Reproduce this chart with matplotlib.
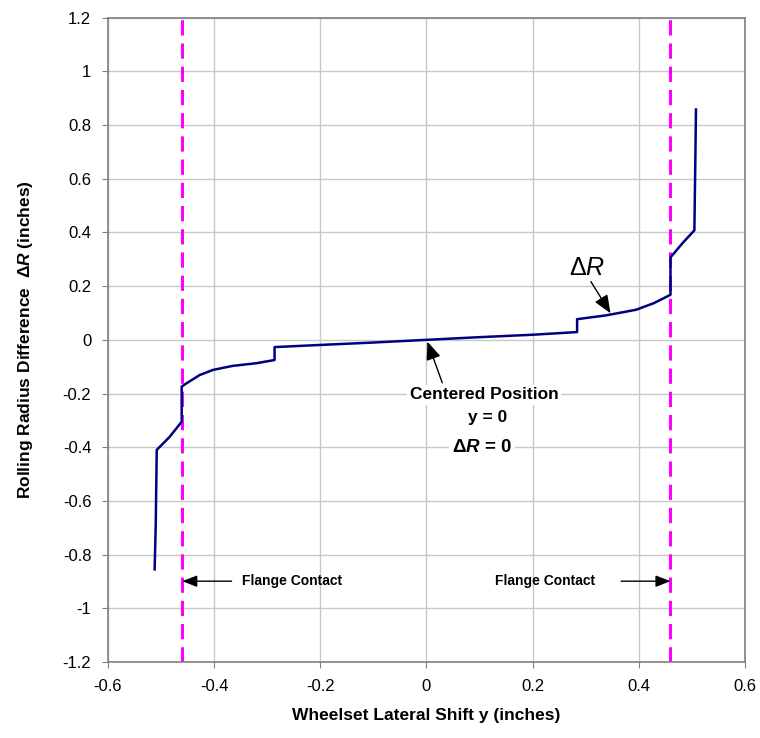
import matplotlib
matplotlib.use('Agg')
import matplotlib.pyplot as plt

plt.rcParams['font.family'] = ['Liberation Sans', 'DejaVu Sans']
plt.rcParams['mathtext.fontset'] = 'custom'
plt.rcParams['mathtext.rm'] = 'Liberation Sans'
plt.rcParams['mathtext.it'] = 'Liberation Sans:italic'
plt.rcParams['mathtext.bf'] = 'Liberation Sans:bold'
plt.rcParams['mathtext.bfit'] = 'Liberation Sans:bold:italic'

# wheelset lateral shift y (in) vs rolling radius difference dR (in)
shift_y = [-0.512, -0.510, -0.508, -0.484, -0.461, -0.461, -0.452, -0.427, -0.402,
           -0.365, -0.320, -0.286, -0.286, -0.200, -0.100, 0.0, 0.100, 0.200,
           0.284, 0.284, 0.338, 0.395, 0.429, 0.460, 0.460, 0.483, 0.505, 0.507, 0.508]
delta_r = [-0.855, -0.700, -0.410, -0.362, -0.305, -0.174, -0.162, -0.131, -0.112,
           -0.097, -0.087, -0.075, -0.027, -0.019, -0.010, 0.0, 0.010, 0.019,
           0.029, 0.077, 0.091, 0.112, 0.137, 0.168, 0.307, 0.361, 0.408, 0.700, 0.858]
flange_y = [-0.46, 0.46]

xticks = [-0.6, -0.4, -0.2, 0, 0.2, 0.4, 0.6]
yticks = [-1.2, -1, -0.8, -0.6, -0.4, -0.2, 0, 0.2, 0.4, 0.6, 0.8, 1, 1.2]

fig = plt.figure(figsize=(7.6, 7.38), dpi=100)
ax = fig.add_axes([0.142, 0.103, 0.838, 0.873])

ax.grid(True, color='#c8c8c8', lw=1)
ax.set_axisbelow(True)

for fx in flange_y:
    ax.axvline(fx, color='#ff00ff', lw=2.2, dashes=(5, 2.6), zorder=2)

ax.plot(shift_y, delta_r, color='#000080', lw=1.8, zorder=3)

ax.set_xlim(-0.6, 0.6)
ax.set_ylim(-1.2, 1.2)
ax.set_xticks(xticks)
ax.set_yticks(yticks)
ax.set_xticklabels([f'{t:g}' for t in xticks])
ax.set_yticklabels([f'{t:g}' for t in yticks])
ax.tick_params(labelsize=12, length=4, color='#808080', pad=8)
for s in ax.spines.values():
    s.set_color('#808080')
    s.set_linewidth(1.2)

ax.set_xlabel('Wheelset Lateral Shift y (inches)', fontsize=12.5, fontweight='bold', labelpad=10)
ax.set_ylabel(r'Rolling Radius Difference  $\mathbf{\Delta}\mathbfit{R}$ (inches)',
              fontsize=12.5, fontweight='bold', labelpad=20)

arrow_big = dict(arrowstyle='-|>,head_length=1.1,head_width=0.45',
                 color='black', lw=1, shrinkA=0, shrinkB=0)

# dR label near curve
ax.text(0.303, 0.269, r'$\Delta\mathit{R}$', fontsize=18, ha='center', va='center', zorder=5)
ax.annotate('', xy=(0.347, 0.099), xytext=(0.310, 0.217), arrowprops=arrow_big, zorder=5)

# centered position
ax.annotate('', xy=(0.002, -0.007), xytext=(0.030, -0.160), arrowprops=arrow_big, zorder=5)
ax.text(0.109, -0.205, 'Centered Position', fontsize=12.5, fontweight='bold',
        ha='center', va='center',
        bbox=dict(boxstyle='square,pad=0.15', fc='white', ec='none'), zorder=5)
ax.text(0.115, -0.291, 'y = 0', fontsize=12.5, fontweight='bold', ha='center', va='center',
        bbox=dict(boxstyle='square,pad=0.15', fc='white', ec='none'), zorder=5)
ax.text(0.105, -0.40, r'$\mathbf{\Delta}\mathbfit{R}$ = 0', fontsize=13.5, fontweight='bold',
        ha='center', va='center',
        bbox=dict(boxstyle='square,pad=0.15', fc='white', ec='none'), zorder=5)

# flange contact
arrow_small = dict(arrowstyle='-|>,head_length=0.9,head_width=0.35',
                   color='black', lw=1, shrinkA=0, shrinkB=0)
ax.annotate('', xy=(flange_y[0], -0.899), xytext=(-0.367, -0.899),
            arrowprops=arrow_small, zorder=5)
ax.text(-0.347, -0.899, 'Flange Contact', fontsize=10, fontweight='bold',
        ha='left', va='center', zorder=5)
ax.annotate('', xy=(flange_y[1], -0.899), xytext=(0.367, -0.899),
            arrowprops=arrow_small, zorder=5)
ax.text(0.224, -0.899, 'Flange Contact', fontsize=10, fontweight='bold',
        ha='center', va='center', zorder=5)

fig.savefig('out.png', dpi=100)
